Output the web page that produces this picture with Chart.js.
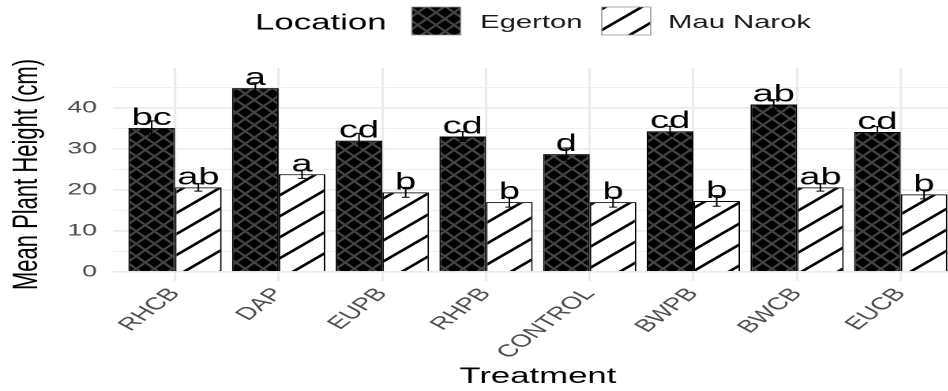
<!DOCTYPE html>
<html lang="en">
<head>
  <meta charset="UTF-8" />
  <title>Mean Plant Height by Treatment</title>
  <style>
    html, body { margin: 0; padding: 0; background: #fff; overflow: hidden; }
    #wrap { width: 948px; height: 391px; overflow: hidden; }
  </style>
</head>
<body>
  <div id="wrap">
    <!-- drawn narrow, then stretched sideways like the reference picture -->
    <canvas id="heightChart" width="611" height="391" style="width:965px;height:391px"></canvas>
  </div>

  <script src="https://cdn.jsdelivr.net/npm/chart.js"></script>
  <script>
    const treatments = ['RHCB', 'DAP', 'EUPB', 'RHPB', 'CONTROL', 'BWPB', 'BWCB', 'EUCB'];
    const egerton = [35.1, 44.8, 32.0, 33.0, 28.7, 34.3, 40.8, 34.1];
    const mauNarok = [20.6, 23.8, 19.4, 17.0, 17.0, 17.3, 20.6, 18.9];
    const egertonErr = [1.7, 1.3, 1.8, 1.2, 1.5, 1.2, 1.2, 1.3];
    const mauNarokErr = [0.9, 1.0, 1.2, 1.2, 1.2, 1.3, 0.9, 1.1];
    const egertonLetters = ['bc', 'a', 'cd', 'cd', 'd', 'cd', 'ab', 'cd'];
    const mauNarokLetters = ['ab', 'a', 'b', 'b', 'b', 'b', 'ab', 'b'];
    const yTicks = [0, 5, 10, 15, 20, 25, 30, 35, 40, 45];
    const yLabelTicks = [0, 10, 20, 30, 40];
    const legendTitle = 'Location';

    const FONT = '"Liberation Sans", Arial, Helvetica, sans-serif';
    Chart.defaults.font.family = FONT;

    const canvas = document.getElementById('heightChart');
    const mainCtx = canvas.getContext('2d');

    // pattern tiles are drawn at 2x and scaled back down
    function makePattern(w, h, bg, fg, lw, both) {
      const k = 2;
      const c = document.createElement('canvas');
      c.width = w * k;
      c.height = h * k;
      const g = c.getContext('2d');
      g.scale(k, k);
      g.fillStyle = bg;
      g.fillRect(0, 0, w, h);
      g.strokeStyle = fg;
      g.lineWidth = lw;
      for (let n = -2; n <= 2; n++) {
        g.beginPath();
        g.moveTo(-w, 2 * h + n * h);
        g.lineTo(2 * w, -h + n * h);
        g.stroke();
        if (both) {
          g.beginPath();
          g.moveTo(-w, -h + n * h);
          g.lineTo(2 * w, 2 * h + n * h);
          g.stroke();
        }
      }
      const p = mainCtx.createPattern(c, 'repeat');
      p.setTransform(new DOMMatrix().scale(1 / k));
      return p;
    }

    const crossHatch = makePattern(11.5, 12.5, '#000', '#444444', 1.8, true);
    const stripes = makePattern(23, 21, '#fff', '#000', 2.3, false);

    const errs = [egertonErr, mauNarokErr];
    const letters = [egertonLetters, mauNarokLetters];

    const errorBarsAndLetters = {
      id: 'errorBarsAndLetters',
      afterDatasetsDraw(chart) {
        const ctx = chart.ctx;
        const y = chart.scales.y;
        ctx.save();
        chart.data.datasets.forEach((ds, di) => {
          const meta = chart.getDatasetMeta(di);
          meta.data.forEach((bar, i) => {
            const v = ds.data[i].y;
            const e = errs[di][i];
            ctx.fillStyle = '#000';
            ctx.font = '24px ' + FONT;
            ctx.textAlign = 'center';
            ctx.textBaseline = 'alphabetic';
            ctx.fillText(letters[di][i], bar.x, y.getPixelForValue(v) - 3);

            const top = y.getPixelForValue(v + e);
            const bot = y.getPixelForValue(v - e);
            ctx.strokeStyle = '#000';
            ctx.lineWidth = 1;
            ctx.beginPath();
            ctx.moveTo(bar.x, top);
            ctx.lineTo(bar.x, bot);
            ctx.moveTo(bar.x - 2.5, top);
            ctx.lineTo(bar.x + 2.5, top);
            ctx.moveTo(bar.x - 2.5, bot);
            ctx.lineTo(bar.x + 2.5, bot);
            ctx.stroke();
          });
        });
        ctx.restore();
      }
    };

    const topLegend = {
      id: 'topLegend',
      afterDraw(chart) {
        const ctx = chart.ctx;
        const ds = chart.data.datasets;
        ctx.save();
        ctx.fillStyle = '#000';
        ctx.textBaseline = 'alphabetic';
        ctx.textAlign = 'left';
        ctx.font = '22px ' + FONT;
        ctx.fillText(legendTitle, 161.5, 29.5);

        const keys = [[260.7, 304], [381, 423]];
        ctx.font = '18.5px ' + FONT;
        keys.forEach((k, i) => {
          ctx.fillStyle = ds[i].backgroundColor;
          ctx.fillRect(k[0], 7, 31, 28);
          ctx.strokeStyle = '#9a9a9a';
          ctx.lineWidth = 0.8;
          ctx.strokeRect(k[0], 7, 31, 28);
          ctx.fillStyle = '#1a1a1a';
          ctx.fillText(ds[i].label, k[1], 27.8);
        });
        ctx.restore();
      }
    };

    new Chart(canvas, {
      type: 'bar',
      data: {
        datasets: [
          {
            label: 'Egerton',
            data: egerton.map((v, i) => ({ x: i, y: v })),
            backgroundColor: crossHatch,
            borderColor: '#000',
            borderWidth: 1
          },
          {
            label: 'Mau Narok',
            data: mauNarok.map((v, i) => ({ x: i, y: v })),
            backgroundColor: stripes,
            borderColor: '#000',
            borderWidth: 1
          }
        ]
      },
      options: {
        responsive: false,
        animation: false,
        devicePixelRatio: 2,
        categoryPercentage: 0.9,
        barPercentage: 1.0,
        layout: { padding: { top: 68, left: 0, right: 1.3, bottom: 3 } },
        plugins: {
          legend: { display: false },
          tooltip: { enabled: false }
        },
        scales: {
          x: {
            type: 'linear',
            min: -0.6,
            max: 7.6,
            offset: false,
            bounds: 'data',
            afterBuildTicks: axis => { axis.ticks = treatments.map((t, i) => ({ value: i })); },
            ticks: {
              autoSkip: false,
              minRotation: 50,
              maxRotation: 50,
              padding: 3,
              color: '#4d4d4d',
              font: { size: 17.5 },
              callback: v => treatments[v]
            },
            grid: { color: '#ebebeb', lineWidth: 1.6, drawTicks: false, offset: false },
            border: { display: false },
            title: {
              display: true,
              text: 'Treatment',
              color: '#000',
              font: { size: 22, lineHeight: 1 },
              padding: { top: 0, bottom: 0 }
            }
          },
          y: {
            min: -2.2,
            max: 49.7,
            afterBuildTicks: axis => { axis.ticks = yTicks.map(v => ({ value: v })); },
            ticks: {
              padding: 9.9,
              color: '#4d4d4d',
              font: { size: 17 },
              callback: v => yLabelTicks.includes(v) ? String(v) : ''
            },
            grid: {
              color: '#ebebeb',
              lineWidth: c => (c.tick && yLabelTicks.includes(c.tick.value)) ? 1.6 : 0.8,
              drawTicks: false
            },
            border: { display: false },
            title: {
              display: true,
              text: 'Mean Plant Height (cm)',
              color: '#000',
              font: { size: 22 },
              padding: { top: 4.2, bottom: 2.1 }
            }
          }
        }
      },
      plugins: [errorBarsAndLetters, topLegend]
    });
  </script>
</body>
</html>
